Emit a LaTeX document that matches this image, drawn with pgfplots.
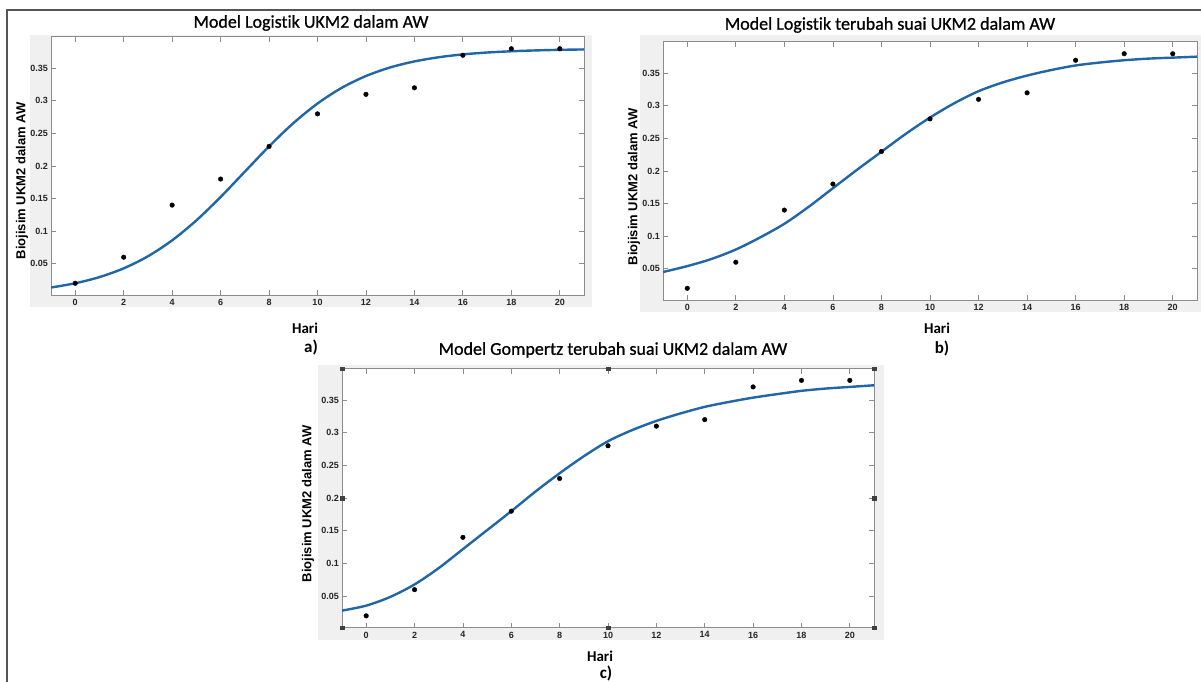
\documentclass[border=0pt]{standalone}
\usepackage{fontspec}
\setmainfont{Carlito}[Ligatures=NoCommon]
\newfontfamily\titlefont{Carlito}[Ligatures=NoCommon, FakeBold=0.8]
\newfontfamily\arial{Liberation Sans}
\usepackage{pgfplots}
\usepackage{pgfplotstable}
\pgfplotsset{compat=1.18}

\definecolor{mblue}{RGB}{33,102,166}
\definecolor{figgray}{RGB}{240,240,240}
\definecolor{boxgray}{RGB}{140,140,140}
\definecolor{framegray}{RGB}{85,85,85}

% observed biomass, same in all three panels
\pgfplotstableread{
x y
0 0.02
2 0.06
4 0.14
6 0.18
8 0.23
10 0.28
12 0.31
14 0.32
16 0.37
18 0.38
20 0.38
}\obsdata

\pgfplotsset{
  matlab/.style={
    scale only axis,
    xmin=-1, xmax=21, ymin=0.002, ymax=0.398,
    xtick={0,2,...,20},
    ytick={0.05,0.1,0.15,0.2,0.25,0.3,0.35},
    yticklabels={0.05,0.1,0.15,0.2,0.25,0.3,0.35},
    axis background/.style={fill=white},
    axis line style={boxgray, line width=1bp},
    tick style={boxgray, line width=0.8bp},
    tick align=inside,
    major tick length=5bp,
    /pgf/number format/assume math mode=true,
    ticklabel style={font=\arial\bfseries\fontsize{9bp}{10bp}\selectfont, text=black!85},
    xticklabel style={inner sep=0pt, yshift=-4bp},
    yticklabel style={inner sep=0pt, xshift=-3bp},
  },
  fit/.style={mblue, line width=2.4bp, smooth},
  obs/.style={only marks, mark=*, mark size=2.3bp, black},
}

\begin{document}
\begin{tikzpicture}
\path[use as bounding box] (0,0) rectangle (1201bp,-682bp);
% figure backgrounds
\fill[figgray] (30bp,-35bp) rectangle (592bp,-307bp);
\fill[figgray] (640bp,-35bp) rectangle (1201bp,-312bp);
\fill[figgray] (318bp,-365bp) rectangle (884bp,-640bp);
% outer frame
\draw[framegray, line width=2bp] (7bp,-682bp) -- (7bp,-10bp) -- (1201bp,-10bp);

% a) logistic
\begin{axis}[matlab, at={(51bp,-295bp)}, anchor=south west, width=533bp, height=258bp]
\addplot[fit] coordinates {
 (-1,0.0135) (0,0.0200) (1,0.0295) (2,0.0429) (3,0.0614) (4,0.0859)
 (5,0.1165) (6,0.1524) (7,0.1913) (8,0.2301) (9,0.2657) (10,0.2959)
 (11,0.3200) (12,0.3381) (13,0.3513) (14,0.3605) (15,0.3669) (16,0.3713)
 (17,0.3742) (18,0.3761) (19,0.3774) (20,0.3783) (21,0.3789)};
\addplot[obs] table {\obsdata};
\end{axis}

% b) modified logistic
\begin{axis}[matlab, at={(663bp,-300bp)}, anchor=south west, width=534bp, height=258bp]
\addplot[fit] coordinates {
 (-1,0.045) (0,0.054) (1,0.065) (2,0.0795) (3,0.098) (4,0.119)
 (5,0.145) (6,0.1736) (7,0.202) (8,0.2296) (9,0.257) (10,0.282)
 (11,0.304) (12,0.3225) (13,0.336) (14,0.3465) (15,0.355) (16,0.362)
 (17,0.3665) (18,0.370) (19,0.3725) (20,0.374) (21,0.3755)};
\addplot[obs] table {\obsdata};
\end{axis}

% c) modified Gompertz
\begin{axis}[matlab, at={(342bp,-627.6bp)}, anchor=south west, width=532bp, height=259bp, clip=false]
\addplot[fit] coordinates {
 (-1,0.028) (0,0.0356) (1,0.049) (2,0.068) (3,0.093) (4,0.122)
 (5,0.151) (6,0.180) (7,0.210) (8,0.238) (9,0.264) (10,0.287)
 (11,0.304) (12,0.318) (13,0.3295) (14,0.3395) (15,0.347) (16,0.3536)
 (17,0.359) (18,0.364) (19,0.3675) (20,0.370) (21,0.3725)};
\addplot[obs] table {\obsdata};
% edit handles on the axes box
\addplot[only marks, mark=square*, mark size=1.8bp, black!75] coordinates {
 (-1,0.002) (-1,0.2) (-1,0.398) (10,0.398) (21,0.398) (21,0.2) (21,0.002) (10,0.002)};
\end{axis}

% titles
\node[font=\titlefont\fontsize{18bp}{20bp}\selectfont] at (311bp,-23bp) {Model Logistik UKM2 dalam AW};
\node[font=\titlefont\fontsize{18bp}{20bp}\selectfont] at (890bp,-25bp) {Model Logistik terubah suai UKM2 dalam AW};
\node[font=\titlefont\fontsize{18bp}{20bp}\selectfont] at (613bp,-350bp) {Model Gompertz terubah suai UKM2 dalam AW};
% y labels
\node[rotate=90, font=\arial\bfseries\fontsize{13bp}{15bp}\selectfont] at (22bp,-181bp) {Biojisim UKM2 dalam AW};
\node[rotate=90, font=\arial\bfseries\fontsize{13bp}{15bp}\selectfont] at (634bp,-187bp) {Biojisim UKM2 dalam AW};
\node[rotate=90, font=\arial\bfseries\fontsize{13bp}{15bp}\selectfont] at (308bp,-504bp) {Biojisim UKM2 dalam AW};
% x labels
\node[font=\bfseries\fontsize{15bp}{17bp}\selectfont] at (305bp,-328bp) {Hari};
\node[font=\bfseries\fontsize{15bp}{17bp}\selectfont] at (937bp,-328bp) {Hari};
\node[font=\bfseries\fontsize{15bp}{17bp}\selectfont] at (600bp,-656bp) {Hari};
% panel letters
\node[font=\bfseries\fontsize{17bp}{19bp}\selectfont] at (311bp,-347bp) {a)};
\node[font=\bfseries\fontsize{17bp}{19bp}\selectfont] at (942bp,-348bp) {b)};
\node[font=\bfseries\fontsize{17bp}{19bp}\selectfont] at (606bp,-673bp) {c)};
\end{tikzpicture}
\end{document}
